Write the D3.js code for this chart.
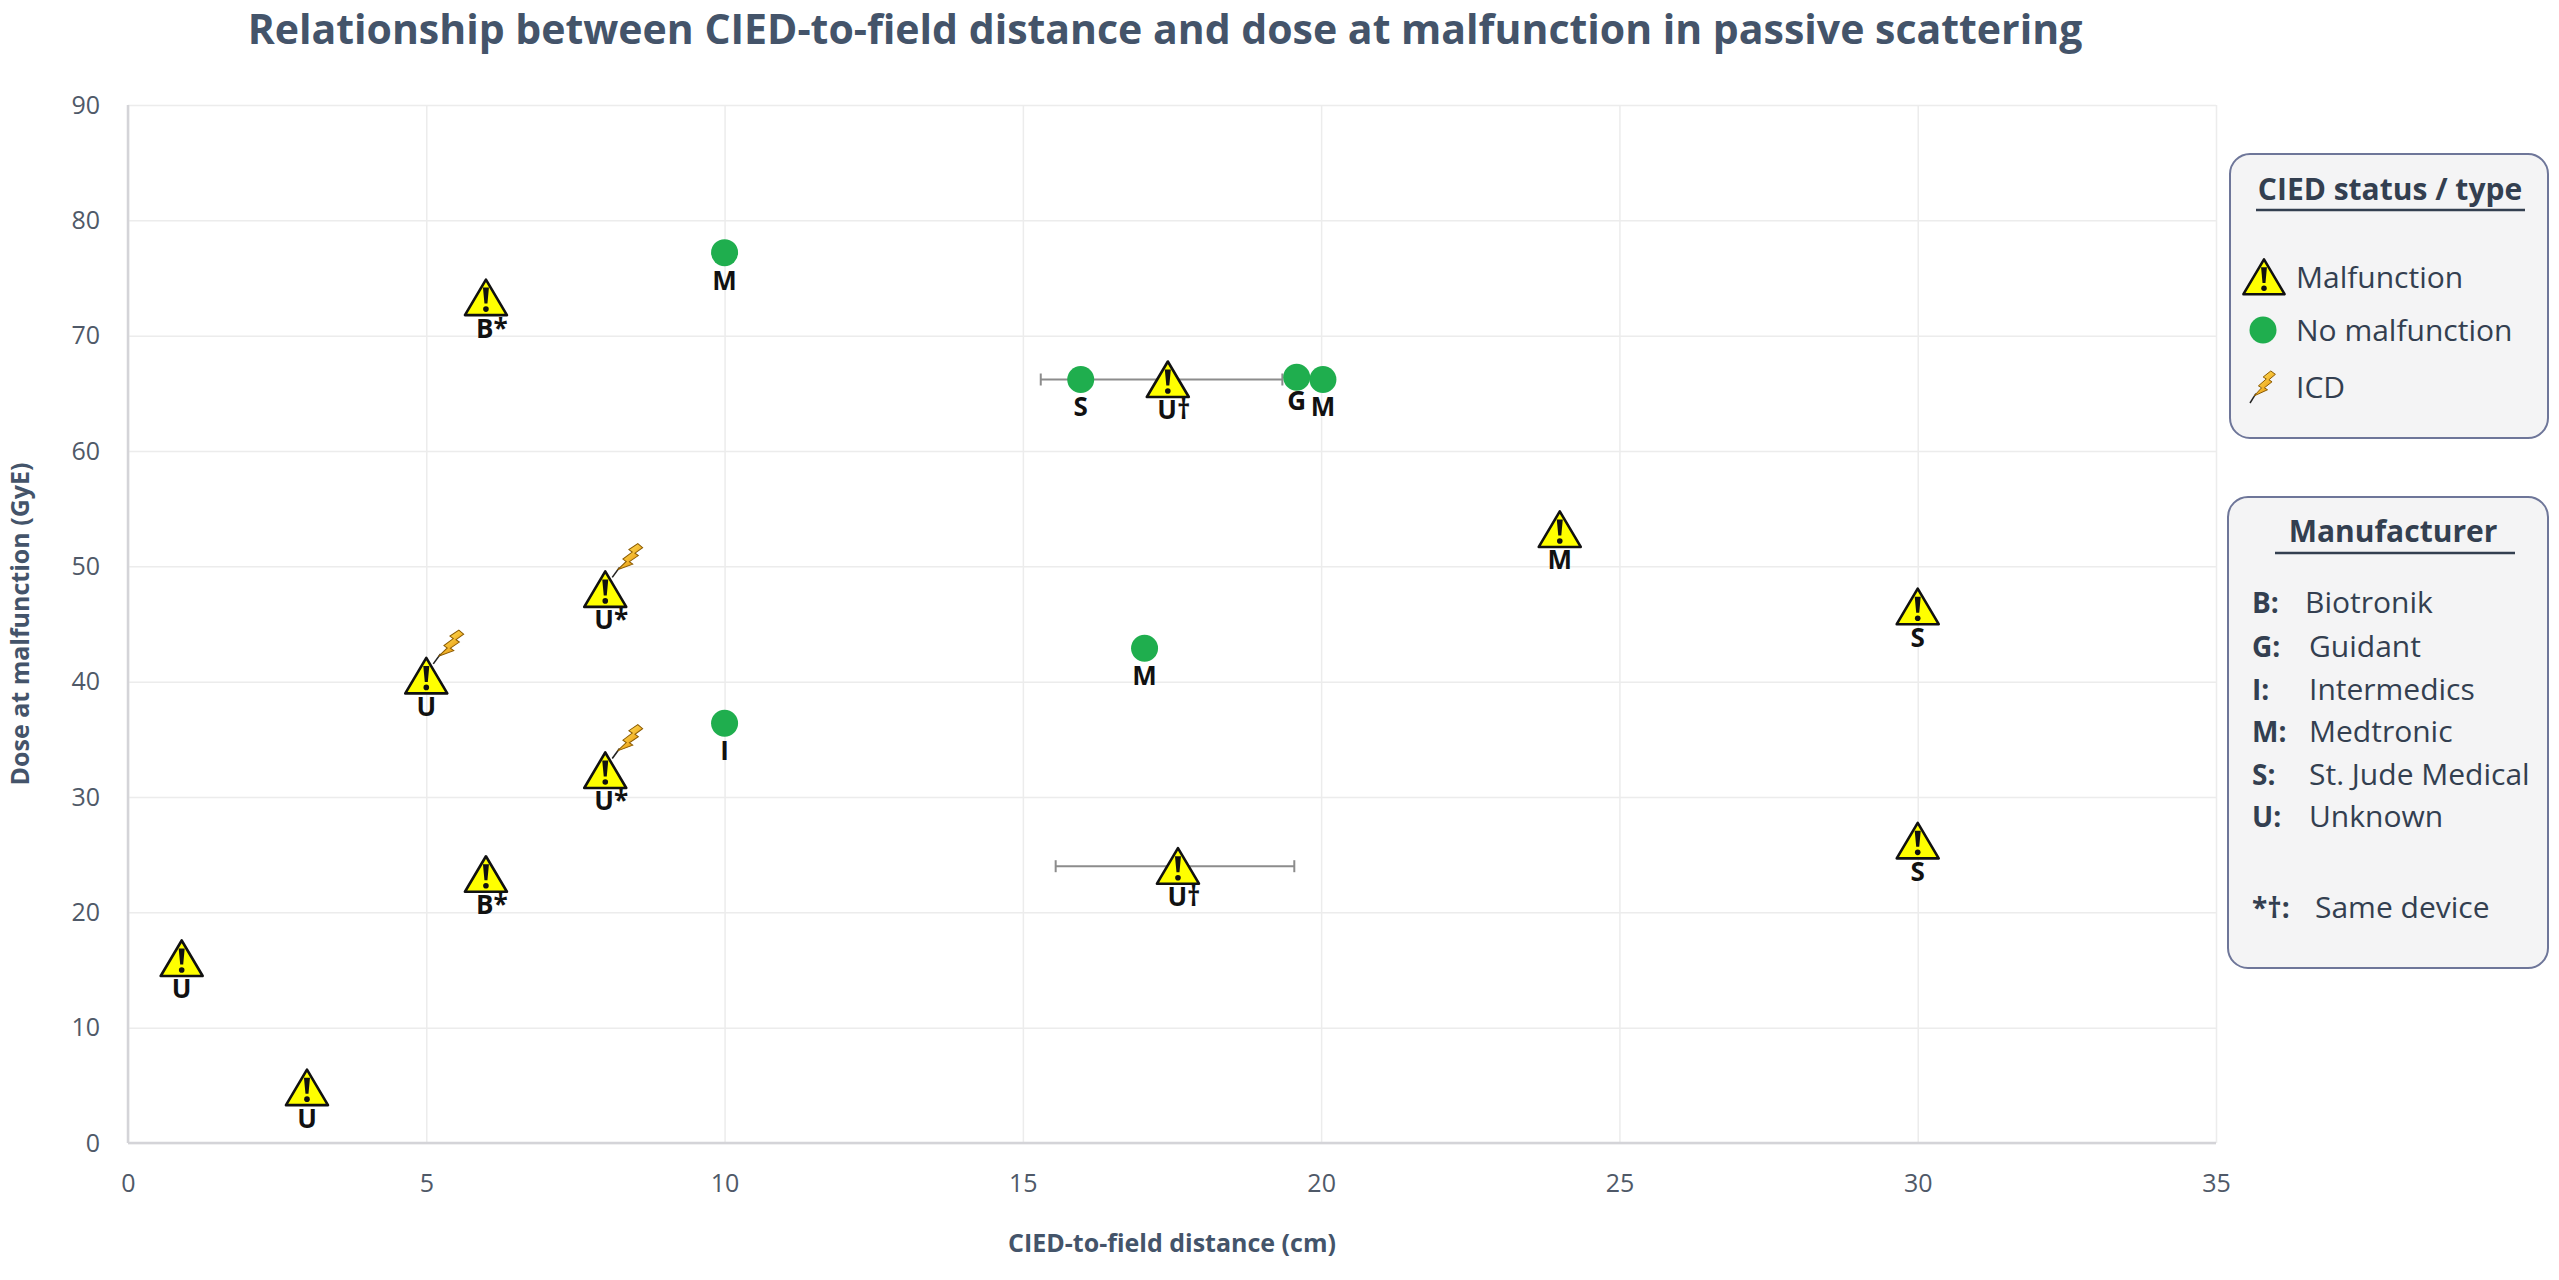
<!DOCTYPE html>
<html>
<head>
  <meta charset="utf-8">
  <title>CIED distance vs dose</title>
  <script src="https://cdn.jsdelivr.net/npm/d3@7"></script>
  <style>
    body { margin: 0; background: #fff; }
    text { font-family: "Open Sans", "DejaVu Sans", sans-serif; }
  </style>
</head>
<body>
  <div id="chart"></div>
  <script>
    // Malfunction points (triangles)
    const malfDistance = [6, 0.9, 3, 5, 6, 8, 8, 17.43, 17.6, 24, 30, 30];
    const malfDose     = [73.3, 16, 4.8, 40.5, 23.3, 48, 32.3, 66.2, 24, 53.2, 46.5, 26.2];
    const malfLabel    = ["B*", "U", "U", "U", "B*", "U*", "U*", "U†", "U†", "M", "S", "S"];
    const malfICD      = [false, false, false, true, false, true, true, false, false, false, false, false];
    // horizontal error bars (only the two U† points)
    const errLow  = [null, null, null, null, null, null, null, 15.3, 15.55, null, null, null];
    const errHigh = [null, null, null, null, null, null, null, 19.35, 19.55, null, null, null];

    // No malfunction points (green dots)
    const okDistance = [10, 15.97, 19.59, 20.03, 17.04, 10];
    const okDose     = [77.2, 66.2, 66.4, 66.2, 42.9, 36.4];
    const okLabel    = ["M", "S", "G", "M", "M", "I"];

    const xTicks = [0, 5, 10, 15, 20, 25, 30, 35];
    const yTicks = [0, 10, 20, 30, 40, 50, 60, 70, 80, 90];

    const legendStatus = ["Malfunction", "No malfunction", "ICD"];
    const makerCodes = ["B:", "G:", "I:", "M:", "S:", "U:"];
    const makerNames = ["Biotronik", "Guidant", "Intermedics", "Medtronic", "St. Jude Medical", "Unknown"];

    const width = 2559, height = 1280;
    const margins = { top: 105, right: 343, bottom: 137, left: 128 };

    const x = d3.scaleLinear().domain([0, 35]).range([margins.left, width - margins.right]);
    const y = d3.scaleLinear().domain([0, 90]).range([height - margins.bottom, margins.top]);

    const svg = d3.select("#chart").append("svg")
        .attr("width", width)
        .attr("height", height);

    const defs = svg.append("defs");
    const grad = defs.append("linearGradient")
        .attr("id", "boltGrad").attr("x1", 0).attr("y1", 0).attr("x2", 1).attr("y2", 1);
    grad.append("stop").attr("offset", "0%").attr("stop-color", "#ffe45c");
    grad.append("stop").attr("offset", "100%").attr("stop-color", "#e68a00");

    // warning triangle symbol
    const tri = defs.append("g").attr("id", "warn");
    tri.append("path")
        .attr("d", "M0,-18 L21,17.5 L-21,17.5 Z")
        .attr("fill", "#ffff00")
        .attr("stroke", "#111")
        .attr("stroke-width", 2.6)
        .attr("stroke-linejoin", "round");
    tri.append("path")
        .attr("d", "M-3,-10 L3,-10 L1.5,6 L-1.5,6 Z")
        .attr("fill", "#111");
    tri.append("circle").attr("cx", 0).attr("cy", 11.5).attr("r", 2.8).attr("fill", "#111");

    // lightning bolt symbol (tail at origin, pointing up)
    const bolt = defs.append("g").attr("id", "bolt");
    bolt.append("line")
        .attr("x1", 0).attr("y1", 0).attr("x2", 3).attr("y2", -12)
        .attr("stroke", "#222").attr("stroke-width", 1.6);
    bolt.append("path")
        .attr("d", "M2,-9 L7,-20 L3,-21 L9,-31 L5,-32 L11,-41 L17,-39 L12,-31 L16,-30 L10,-21 L14,-20 Z")
        .attr("fill", "url(#boltGrad)")
        .attr("stroke", "#8a5a00")
        .attr("stroke-width", 1);

    // grid + x axis
    const xAxis = svg.append("g")
        .attr("transform", `translate(0,${y(0)})`)
        .call(d3.axisBottom(x).tickValues(xTicks).tickSize(-(y(0) - y(90))).tickPadding(31));
    xAxis.select(".domain").remove();
    xAxis.selectAll("line").attr("stroke", "#ececec").attr("stroke-width", 1.5);
    xAxis.selectAll("text").attr("fill", "#4f5968").style("font-size", "25px");

    const yAxis = svg.append("g")
        .attr("transform", `translate(${x(0)},0)`)
        .call(d3.axisLeft(y).tickValues(yTicks).tickSize(-(x(35) - x(0))).tickPadding(28));
    yAxis.select(".domain").remove();
    yAxis.selectAll("line").attr("stroke", "#ececec").attr("stroke-width", 1.5);
    yAxis.selectAll("text").attr("fill", "#4f5968").style("font-size", "25px");

    // axis lines at zero
    svg.append("line")
        .attr("x1", x(0)).attr("x2", x(35)).attr("y1", y(0)).attr("y2", y(0))
        .attr("stroke", "#d4d4d8").attr("stroke-width", 2.5);
    svg.append("line")
        .attr("x1", x(0)).attr("x2", x(0)).attr("y1", y(0)).attr("y2", y(90))
        .attr("stroke", "#d4d4d8").attr("stroke-width", 2.5);

    // title and axis titles
    svg.append("text")
        .attr("x", 1165).attr("y", 44)
        .attr("text-anchor", "middle")
        .attr("fill", "#44546a")
        .style("font-size", "41px").style("font-weight", "bold")
        .text("Relationship between CIED-to-field distance and dose at malfunction in passive scattering");

    svg.append("text")
        .attr("x", (x(0) + x(35)) / 2).attr("y", 1252)
        .attr("text-anchor", "middle")
        .attr("fill", "#44546a")
        .style("font-size", "25px").style("font-weight", "bold")
        .text("CIED-to-field distance (cm)");

    svg.append("text")
        .attr("transform", `translate(29,${(y(0) + y(90)) / 2}) rotate(-90)`)
        .attr("text-anchor", "middle")
        .attr("fill", "#44546a")
        .style("font-size", "25px").style("font-weight", "bold")
        .text("Dose at malfunction (GyE)");

    // error bars
    const malf = malfDistance.map((d, i) => ({
      x: d, y: malfDose[i], label: malfLabel[i], icd: malfICD[i], lo: errLow[i], hi: errHigh[i]
    }));
    const ok = okDistance.map((d, i) => ({ x: d, y: okDose[i], label: okLabel[i] }));

    const eb = svg.append("g").selectAll("g")
        .data(malf.filter(d => d.lo !== null))
        .enter().append("g")
        .attr("stroke", "#8c8c8c").attr("stroke-width", 2);
    eb.append("line")
        .attr("x1", d => x(d.lo)).attr("x2", d => x(d.hi))
        .attr("y1", d => y(d.y)).attr("y2", d => y(d.y));
    eb.append("line")
        .attr("x1", d => x(d.lo)).attr("x2", d => x(d.lo))
        .attr("y1", d => y(d.y) - 6).attr("y2", d => y(d.y) + 6);
    eb.append("line")
        .attr("x1", d => x(d.hi)).attr("x2", d => x(d.hi))
        .attr("y1", d => y(d.y) - 6).attr("y2", d => y(d.y) + 6);

    // green dots
    svg.append("g").selectAll("circle")
        .data(ok)
        .enter().append("circle")
        .attr("cx", d => x(d.x)).attr("cy", d => y(d.y))
        .attr("r", 13.5)
        .attr("fill", "#1fae4e");

    // triangles
    svg.append("g").selectAll("use.warn")
        .data(malf)
        .enter().append("use")
        .attr("class", "warn")
        .attr("href", "#warn")
        .attr("transform", d => `translate(${x(d.x)},${y(d.y)})`);

    // ICD bolts
    svg.append("g").selectAll("use.bolt")
        .data(malf.filter(d => d.icd))
        .enter().append("use")
        .attr("class", "bolt")
        .attr("href", "#bolt")
        .attr("transform", d => `translate(${x(d.x) + 7},${y(d.y) - 12}) rotate(22)`);

    // point labels
    const labelStyle = sel => sel
        .attr("text-anchor", "middle")
        .attr("fill", "#111")
        .style("font-size", "26px").style("font-weight", "bold");

    svg.append("g").selectAll("text")
        .data(malf)
        .enter().append("text")
        .attr("x", d => x(d.x) + (d.label.length > 1 ? 6 : 0))
        .attr("y", d => y(d.y) + 40)
        .call(labelStyle)
        .text(d => d.label);

    svg.append("g").selectAll("text")
        .data(ok)
        .enter().append("text")
        .attr("x", d => x(d.x))
        .attr("y", d => y(d.y) + (d.label === "G" ? 33 : 37))
        .call(labelStyle)
        .text(d => d.label);

    // legend 1: status / type
    const lg1 = svg.append("g");
    lg1.append("rect")
        .attr("x", 2230).attr("y", 154).attr("width", 318).attr("height", 284)
        .attr("rx", 20)
        .attr("fill", "#f4f4f5").attr("stroke", "#6e7699").attr("stroke-width", 2);
    lg1.append("text")
        .attr("x", 2390).attr("y", 200)
        .attr("text-anchor", "middle").attr("fill", "#333f50")
        .style("font-size", "30px").style("font-weight", "bold")
        .text("CIED status / type");
    lg1.append("line")
        .attr("x1", 2256).attr("x2", 2525).attr("y1", 210).attr("y2", 210)
        .attr("stroke", "#333f50").attr("stroke-width", 2.5);
    const rowY = [277, 330, 387];
    lg1.append("use").attr("href", "#warn").attr("transform", `translate(2264,${rowY[0]}) scale(0.98)`);
    lg1.append("circle").attr("cx", 2263).attr("cy", rowY[1]).attr("r", 13.5).attr("fill", "#1fae4e");
    lg1.append("use").attr("href", "#bolt").attr("transform", `translate(2250,${rowY[2] + 16}) rotate(18) scale(0.9)`);
    lg1.selectAll("text.item")
        .data(legendStatus)
        .enter().append("text")
        .attr("class", "item")
        .attr("x", 2296).attr("y", (d, i) => rowY[i] + 11)
        .attr("fill", "#333f50")
        .style("font-size", "30px")
        .text(d => d);

    // legend 2: manufacturer
    const lg2 = svg.append("g");
    lg2.append("rect")
        .attr("x", 2228).attr("y", 497).attr("width", 320).attr("height", 471)
        .attr("rx", 20)
        .attr("fill", "#f4f4f5").attr("stroke", "#6e7699").attr("stroke-width", 2);
    lg2.append("text")
        .attr("x", 2393).attr("y", 542)
        .attr("text-anchor", "middle").attr("fill", "#333f50")
        .style("font-size", "30px").style("font-weight", "bold")
        .text("Manufacturer");
    lg2.append("line")
        .attr("x1", 2275).attr("x2", 2515).attr("y1", 553).attr("y2", 553)
        .attr("stroke", "#333f50").attr("stroke-width", 2.5);
    const makerY = [603, 647, 690, 732, 775, 817];
    lg2.selectAll("text.code")
        .data(makerCodes)
        .enter().append("text")
        .attr("class", "code")
        .attr("x", 2252).attr("y", (d, i) => makerY[i] + 10)
        .attr("fill", "#333f50")
        .style("font-size", "28px").style("font-weight", "bold")
        .text(d => d);
    lg2.selectAll("text.name")
        .data(makerNames)
        .enter().append("text")
        .attr("class", "name")
        .attr("x", (d, i) => i === 0 ? 2305 : 2309).attr("y", (d, i) => makerY[i] + 10)
        .attr("fill", "#333f50")
        .style("font-size", "30px")
        .text(d => d);
    lg2.append("text")
        .attr("x", 2252).attr("y", 918)
        .attr("fill", "#333f50")
        .style("font-size", "28px").style("font-weight", "bold")
        .text("*†:");
    lg2.append("text")
        .attr("x", 2315).attr("y", 918)
        .attr("fill", "#333f50")
        .style("font-size", "30px")
        .text("Same device");
  </script>
</body>
</html>
